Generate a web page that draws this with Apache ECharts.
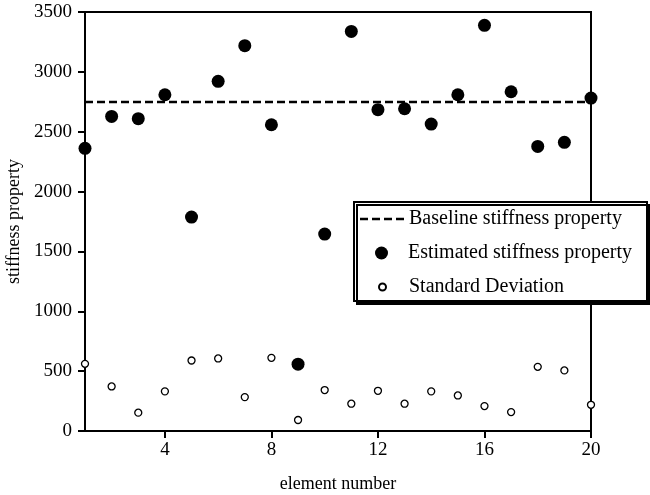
<!DOCTYPE html>
<html>
<head>
<meta charset="utf-8">
<script src="https://cdn.jsdelivr.net/npm/echarts@6/dist/echarts.min.js"></script>
<style>html,body{margin:0;padding:0;background:#fff}#c{width:650px;height:495px}</style>
</head>
<body>
<div id="c"></div>
<script>
const elements = [1,2,3,4,5,6,7,8,9,10,11,12,13,14,15,16,17,18,19,20];
const estimated = [2361,2628,2609,2809,1787,2921,3219,2558,558,1645,3338,2684,2692,2564,2809,3389,2834,2377,2411,2781];
const stdDev = [561,372,153,331,589,606,283,611,92,342,228,336,228,331,297,208,158,536,506,219];
const baseline = 2748;
const xTicks = [4,8,12,16,20];
const yTicks = [0,500,1000,1500,2000,2500,3000,3500];
const seriesNames = ['Baseline stiffness property','Estimated stiffness property','Standard Deviation'];

const font = 'Liberation Serif';
const chart = echarts.init(document.getElementById('c'), null, {renderer:'canvas'});
const legendBase = {
  orient:'vertical', padding:0, itemGap:5, z:6, selectedMode:false,
  textStyle:{fontFamily:font, fontSize:20, color:'#000'}, inactiveColor:'#000'
};
const dashIcon = 'path://M0,0h8v2.5h-8zM12,0h8v2.5h-8zM24,0h8v2.5h-8zM36,0h8v2.5h-8z';
chart.setOption({
  animation:false,
  grid:{left:85, right:59, top:12, bottom:64, outerBoundsMode:'none', containLabel:false,
        show:true, borderColor:'#000', borderWidth:2, backgroundColor:'transparent'},
  xAxis:{
    type:'value', min:elements[0], max:elements[elements.length-1],
    name:'element number', nameLocation:'middle', nameGap:44,
    nameTextStyle:{fontFamily:font, fontSize:18, color:'#000'},
    axisLine:{show:true, lineStyle:{color:'#000', width:2}},
    axisTick:{show:true, inside:false, length:7, lineStyle:{color:'#000', width:2}, customValues:xTicks},
    axisLabel:{fontFamily:font, fontSize:19, color:'#000', margin:10, customValues:xTicks},
    splitLine:{show:false}
  },
  yAxis:{
    type:'value', min:yTicks[0], max:yTicks[yTicks.length-1], interval:500,
    name:'stiffness property', nameLocation:'middle', nameGap:62, nameRotate:90,
    nameTextStyle:{fontFamily:font, fontSize:18, color:'#000'},
    axisLine:{show:true, lineStyle:{color:'#000', width:2}},
    axisTick:{show:true, inside:false, length:7, lineStyle:{color:'#000', width:2}},
    axisLabel:{fontFamily:font, fontSize:19, color:'#000', margin:13, formatter:v=>String(v)},
    splitLine:{show:false}
  },
  graphic:[{
    type:'rect', z:5, shape:{x:354, y:202, width:293, height:99},
    style:{fill:'#fff', stroke:'#000', lineWidth:2, shadowColor:'#000', shadowOffsetX:3, shadowOffsetY:3, shadowBlur:0}
  }],
  legend:[
    Object.assign({}, legendBase, {left:360, top:209, itemWidth:44, itemHeight:3,
      data:[{name:seriesNames[0], icon:dashIcon}]}),
    Object.assign({}, legendBase, {left:375, top:243, itemWidth:13, itemHeight:13,
      textStyle:Object.assign({}, legendBase.textStyle, {padding:[0,0,0,15]}),
      data:[{name:seriesNames[1], icon:'circle'}]}),
    Object.assign({}, legendBase, {left:378, top:277, itemWidth:7, itemHeight:7,
      textStyle:Object.assign({}, legendBase.textStyle, {padding:[0,0,0,18]}),
      data:[{name:seriesNames[2], icon:'circle'}]})
  ],
  series:[
    {
      name:seriesNames[0], type:'line', symbol:'none', z:3,
      data:[[elements[0], baseline],[elements[elements.length-1], baseline]],
      lineStyle:{color:'#000', width:2.5, type:[8,4]}, itemStyle:{color:'#000'}
    },
    {
      name:seriesNames[1], type:'scatter', symbol:'circle', symbolSize:13, z:4,
      data:elements.map((e,i)=>[e, estimated[i]]),
      itemStyle:{color:'#000', opacity:1}
    },
    {
      name:seriesNames[2], type:'scatter', symbol:'circle', symbolSize:7, z:4,
      data:elements.map((e,i)=>[e, stdDev[i]]),
      itemStyle:{color:'#fff', borderColor:'#000', borderWidth:1.3, opacity:1}
    }
  ]
});
</script>
</body>
</html>
